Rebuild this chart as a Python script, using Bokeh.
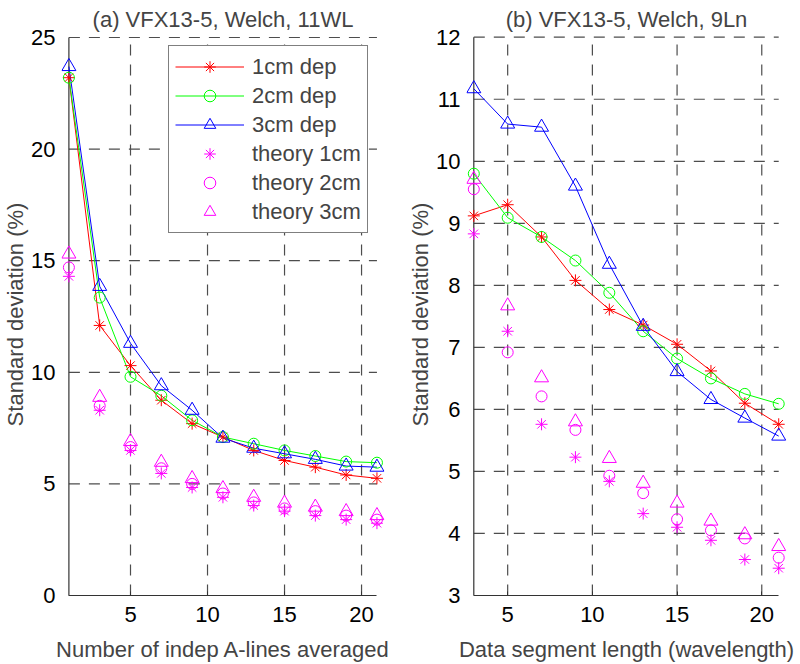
from bokeh.plotting import figure
from bokeh.layouts import row
from bokeh.models import Range1d, ColumnDataSource, Legend, LegendItem, FixedTicker
from bokeh.embed import file_html
from bokeh.resources import INLINE

FONT = "Liberation Sans"

# ---------------- data: panel (a) ----------------
a_title = "(a) VFX13-5, Welch, 11WL"
a_xlabel = "Number of indep A-lines averaged"
a_x = [1, 3, 5, 7, 9, 11, 13, 15, 17, 19, 21]
a_1cm = [23.2, 12.1, 10.3, 8.75, 7.7, 7.1, 6.5, 6.05, 5.75, 5.4, 5.25]
a_2cm = [23.2, 13.35, 9.8, 8.95, 7.85, 7.1, 6.8, 6.5, 6.25, 6.0, 5.95]
a_3cm = [23.7, 13.85, 11.3, 9.4, 8.3, 7.05, 6.6, 6.35, 6.1, 5.8, 5.75]
a_th1 = [14.3, 8.3, 6.5, 5.47, 4.84, 4.4, 4.03, 3.78, 3.58, 3.4, 3.24]
a_th2 = [14.7, 8.5, 6.65, 5.7, 5.0, 4.57, 4.17, 3.9, 3.78, 3.58, 3.4]
a_th3 = [15.3, 8.88, 6.9, 5.97, 5.24, 4.79, 4.4, 4.14, 3.96, 3.76, 3.58]
a_xticks = [5, 10, 15, 20]
a_yticks = [0, 5, 10, 15, 20, 25]
a_xlim = (1, 21)
a_ylim = (0, 25)

# ---------------- data: panel (b) ----------------
b_title = "(b) VFX13-5, Welch, 9Ln"
b_xlabel = "Data segment length (wavelength)"
b_x = [3, 5, 7, 9, 11, 13, 15, 17, 19, 21]
b_1cm = [9.12, 9.3, 8.78, 8.08, 7.61, 7.36, 7.05, 6.62, 6.1, 5.76]
b_2cm = [9.8, 9.09, 8.78, 8.4, 7.88, 7.26, 6.82, 6.5, 6.25, 6.09]
b_3cm = [11.17, 10.6, 10.55, 9.6, 8.34, 7.34, 6.61, 6.16, 5.86, 5.57]
b_th1 = [8.83, 7.26, 5.76, 5.23, 4.84, 4.32, 4.1, 3.89, 3.58, 3.44]
b_th2 = [9.55, 6.92, 6.21, 5.67, 4.93, 4.65, 4.23, 4.05, 3.92, 3.61]
b_th3 = [9.71, 7.67, 6.51, 5.8, 5.21, 4.81, 4.49, 4.2, 3.98, 3.79]
b_xticks = [5, 10, 15, 20]
b_yticks = [3, 4, 5, 6, 7, 8, 9, 10, 11, 12]
b_xlim = (3, 21)
b_ylim = (3, 12)

ylabel = "Standard deviation (%)"
labels = ["1cm dep", "2cm dep", "3cm dep", "theory 1cm", "theory 2cm", "theory 3cm"]

RED, GREEN, BLUE, MAG = "#ff0000", "#00ff00", "#0000ff", "#ff00ff"
GRID = "#4d4d4d"
AXIS = "#333333"
FS = "22px"


def make_panel(title, xlabel, x, s1, s2, s3, t1, t2, t3, xticks, yticks,
               xlim, ylim, xr, yr, fw, bl, br, legend=False):
    p = figure(frame_width=fw, frame_height=562, output_backend="svg", toolbar_location=None,
               x_range=Range1d(*xr), y_range=Range1d(*yr),
               min_border_left=bl, min_border_right=br, min_border_top=33,
               min_border_bottom=69)
    p.outline_line_color = None
    p.background_fill_color = "white"
    p.border_fill_color = "white"
    p.xgrid.visible = False
    p.ygrid.visible = False

    p.title.text = title
    p.title.align = "center"
    p.title.text_font = FONT
    p.title.text_font_size = FS
    p.title.text_font_style = "normal"
    p.title.standoff = 4

    # dashed grid, bounded to the axis extents
    vx = list(xticks)
    gv = ColumnDataSource(dict(x0=vx, x1=vx, y0=[ylim[0]] * len(vx), y1=[ylim[1]] * len(vx)))
    hy = [t for t in yticks if t != ylim[0]]
    gh = ColumnDataSource(dict(x0=[xlim[0]] * len(hy), x1=[xlim[1]] * len(hy), y0=hy, y1=hy))
    for src in (gv, gh):
        p.segment(x0="x0", y0="y0", x1="x1", y1="y1", source=src,
                  line_color=GRID, line_width=1.2, line_dash="11 9")
    # left axis line at x = xlim[0]
    p.segment(x0=[xlim[0]], y0=[ylim[0]], x1=[xlim[0]], y1=[ylim[1]],
              line_color=AXIS, line_width=1.2)

    xa = p.xaxis[0]
    xa.ticker = FixedTicker(ticks=xticks)
    xa.bounds = xlim
    xa.axis_line_color = AXIS
    xa.axis_line_width = 1.2
    xa.major_tick_line_color = AXIS
    xa.major_tick_in = 4
    xa.major_tick_out = 0
    xa.minor_tick_line_color = None
    xa.major_label_text_font = FONT
    xa.major_label_text_font_size = FS
    xa.major_label_text_color = "black"
    xa.major_label_standoff = 11
    xa.axis_label = xlabel
    xa.axis_label_text_font = FONT
    xa.axis_label_text_font_size = FS
    xa.axis_label_text_font_style = "normal"
    xa.axis_label_standoff = 12

    ya = p.yaxis[0]
    ya.ticker = FixedTicker(ticks=yticks)
    ya.axis_line_color = None
    ya.major_tick_line_color = None
    ya.minor_tick_line_color = None
    ya.major_label_text_font = FONT
    ya.major_label_text_font_size = FS
    ya.major_label_text_color = "black"
    ya.major_label_standoff = 0
    ya.axis_label = ylabel
    ya.axis_label_text_font = FONT
    ya.axis_label_text_font_size = FS
    ya.axis_label_text_font_style = "normal"
    ya.axis_label_standoff = 0

    l1 = p.line(x, s1, line_color=RED, line_width=1)
    l2 = p.line(x, s2, line_color=GREEN, line_width=1)
    l3 = p.line(x, s3, line_color=BLUE, line_width=1)
    m1 = p.scatter(x, s1, marker="asterisk", size=12, line_color=RED, line_width=1)
    m2 = p.scatter(x, s2, marker="circle", size=11, line_color=GREEN, fill_color=None, line_width=1)
    m3 = p.scatter(x, s3, marker="triangle", size=14, line_color=BLUE, fill_color=None, line_width=1)
    n1 = p.scatter(x, t1, marker="asterisk", size=12, line_color=MAG, line_width=1)
    n2 = p.scatter(x, t2, marker="circle", size=11, line_color=MAG, fill_color=None, line_width=1)
    n3 = p.scatter(x, t3, marker="triangle", size=14, line_color=MAG, fill_color=None, line_width=1)

    if legend:
        items = [LegendItem(label=labels[0], renderers=[l1, m1]),
                 LegendItem(label=labels[1], renderers=[l2, m2]),
                 LegendItem(label=labels[2], renderers=[l3, m3]),
                 LegendItem(label=labels[3], renderers=[n1]),
                 LegendItem(label=labels[4], renderers=[n2]),
                 LegendItem(label=labels[5], renderers=[n3])]
        lg = Legend(items=items, location=(107, 362))
        lg.label_text_font = FONT
        lg.label_text_font_size = FS
        lg.glyph_width = 69
        lg.glyph_height = 29
        lg.label_height = 29
        lg.label_standoff = 8
        lg.spacing = 0
        lg.padding = 6
        lg.margin = 0
        lg.border_line_color = "black"
        lg.border_line_width = 1
        lg.background_fill_color = "white"
        lg.background_fill_alpha = 1
        p.add_layout(lg, "center")
    return p


pa = make_panel(a_title, a_xlabel, a_x, a_1cm, a_2cm, a_3cm, a_th1, a_th2, a_th3,
                a_xticks, a_yticks, a_xlim, a_ylim, (0.52, 21.49), (0, 25.18),
                323, 61, 21, legend=True)
pb = make_panel(b_title, b_xlabel, b_x, b_1cm, b_2cm, b_3cm, b_th1, b_th2, b_th3,
                b_xticks, b_yticks, b_xlim, b_ylim, (2.569, 21.46), (3, 12.06),
                320, 61, 14)

layout = row(pa, pb)
open("out.html", "w").write(file_html(layout, INLINE))
